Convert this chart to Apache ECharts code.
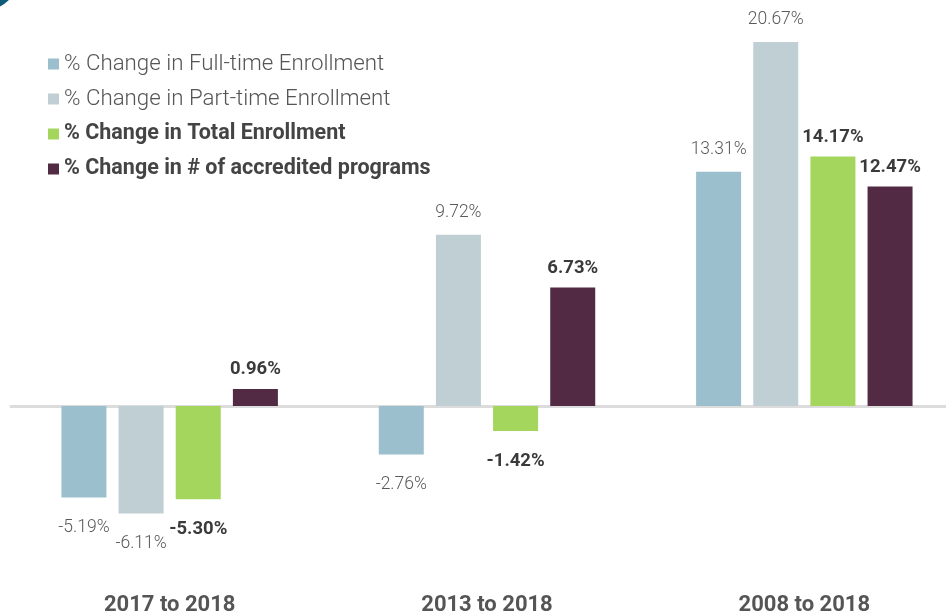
<!DOCTYPE html>
<html>
<head>
<meta charset="utf-8">
<style>
  html, body { margin: 0; padding: 0; background: #fff; }
  #chart { width: 946px; height: 616px; }
</style>
<script src="https://cdn.jsdelivr.net/npm/echarts@6/dist/echarts.min.js"></script>
</head>
<body>
<div id="chart"></div>
<script>
const periods = ['2017 to 2018', '2013 to 2018', '2008 to 2018'];
const seriesNames = [
  '% Change in Full-time Enrollment',
  '% Change in Part-time Enrollment',
  '% Change in Total Enrollment',
  '% Change in # of accredited programs'
];
const fullTime = [-5.19, -2.76, 13.31];
const partTime = [-6.11, 9.72, 20.67];
const totalEnroll = [-5.30, -1.42, 14.17];
const programs = [0.96, 6.73, 12.47];
const colors = ['#9bbfcd', '#bfcfd3', '#a4d65e', '#532a44'];
const boldSeries = [false, false, true, true];

const fontFam = 'Roboto, "DejaVu Sans", sans-serif';
const valuesList = [fullTime, partTime, totalEnroll, programs];

const chart = echarts.init(document.getElementById('chart'));

const series = seriesNames.map((name, i) => ({
  name: name,
  type: 'bar',
  barWidth: 45,
  barGap: '27%',
  itemStyle: { color: colors[i] },
  data: valuesList[i].map((v) => ({
    value: v,
    label: {
      show: true,
      position: v < 0 ? 'bottom' : 'top',
      distance: v < 0 ? 21 : (boldSeries[i] ? 10 : 13)
    }
  })),
  label: {
    formatter: (p) => p.value.toFixed(2) + '%',
    fontFamily: fontFam,
    fontSize: boldSeries[i] ? 18.5 : 17.5,
    fontWeight: boldSeries[i] ? 'bold' : 300,
    color: boldSeries[i] ? '#3a3a3a' : '#5a5a5a'
  }
}));

chart.setOption({
  animation: false,
  graphic: [{
    type: 'circle',
    shape: { cx: -20, cy: -30, r: 41.7 },
    style: { fill: '#0f5c78' }
  }],
  legend: {
    orient: 'vertical',
    left: 48,
    top: 53,
    padding: 0,
    itemWidth: 11,
    itemHeight: 11,
    itemGap: 13,
    icon: 'rect',
    data: seriesNames,
    formatter: (name) => (boldSeries[seriesNames.indexOf(name)] ? '{b|' + name + '}' : '{n|' + name + '}'),
    textStyle: {
      lineHeight: 22,
      rich: {
        n: { fontFamily: fontFam, fontSize: 22.3, fontWeight: 300, color: '#555', lineHeight: 22 },
        b: { fontFamily: fontFam, fontSize: 21.5, fontWeight: 'bold', color: '#444', lineHeight: 22 }
      }
    }
  },
  grid: {
    left: 11,
    width: 952,
    top: 18.6,
    height: 528.3,
    containLabel: false,
    outerBoundsMode: 'none'
  },
  xAxis: {
    type: 'category',
    data: periods,
    axisLine: { show: true, onZero: true, lineStyle: { color: '#dcdcdc', width: 3 } },
    axisTick: { show: false },
    axisLabel: {
      show: true,
      margin: 48,
      fontFamily: fontFam,
      fontSize: 22,
      fontWeight: 'bold',
      color: '#555'
    }
  },
  yAxis: {
    type: 'value',
    min: -8,
    max: 22,
    show: false,
    splitLine: { show: false }
  },
  series: series
});
</script>
</body>
</html>
